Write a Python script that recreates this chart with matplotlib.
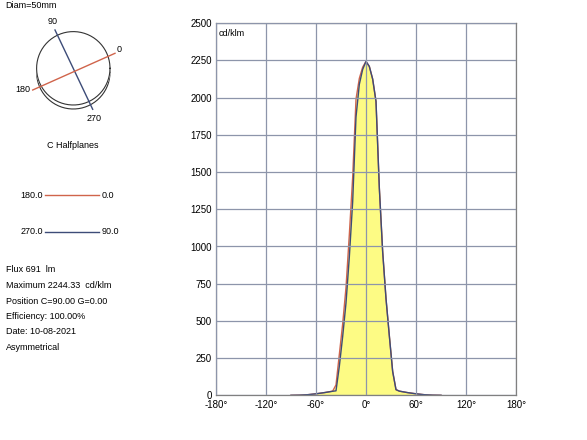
import numpy as np
import matplotlib.pyplot as plt

plt.rcParams['font.family'] = ['Liberation Sans', 'DejaVu Sans']

# Photometric curves (cd/klm) versus gamma angle (deg)
angles = [-90, -80, -70, -60, -50, -40, -36, -32, -28, -24, -20, -16, -12,
          -8, -4, 0, 4, 8, 12, 16, 20, 24, 28, 32, 36, 40, 50, 60, 70, 80, 90]
c0_180 = [0, 1, 4, 10, 18, 28, 70, 275, 480, 725, 1080, 1465, 1990,
          2130, 2205, 2244, 2210, 2125, 1975, 1393, 965, 650, 400, 160,
          38, 28, 18, 10, 4, 1, 0]
c90_270 = [0, 1, 4, 10, 18, 27, 30, 195, 395, 620, 930, 1300, 1870,
           2090, 2190, 2244, 2210, 2125, 1975, 1393, 965, 650, 400, 160,
           38, 28, 18, 10, 4, 1, 0]

xticks = [-180, -120, -60, 0, 60, 120, 180]
yticks = np.arange(0, 2501, 250)

info_lines = ['Flux 691  lm', 'Maximum 2244.33  cd/klm',
              'Position C=90.00 G=0.00', 'Efficiency: 100.00%',
              'Date: 10-08-2021', 'Asymmetrical']

red = '#d0644b'
blue = '#3d4c78'
grid_c = '#8d95aa'
fs = 6.5

fig = plt.figure(figsize=(5.87, 4.4), dpi=100)

# Main intensity plot
ax = fig.add_axes([216/587, 1-395.3/440, 300/587, 372/440])
ax.fill_between(angles, c0_180, color='#fdfb84', lw=0)
ax.fill_between(angles, c90_270, color='#fdfb84', lw=0)
ax.plot(angles, c0_180, c=red, lw=1.0)
ax.plot(angles, c90_270, c=blue, lw=1.0)
ax.set_xlim(-180, 180)
ax.set_ylim(0, 2500)
ax.set_xticks(xticks)
ax.set_xticklabels([f'{t}°' for t in xticks])
ax.set_yticks(yticks)
ax.grid(True, color=grid_c, lw=0.9)
ax.set_axisbelow(False)
for line in ax.get_xgridlines() + ax.get_ygridlines():
    line.set_zorder(0.5)
ax.tick_params(length=0, labelsize=fs+0.5)
ax.tick_params(axis='x', pad=3.5)
ax.tick_params(axis='y', pad=3)
for s in ax.spines.values():
    s.set_color('#808080')
    s.set_linewidth(0.9)
ax.text(0.01, 0.985, 'cd/klm', transform=ax.transAxes, fontsize=fs,
        va='top', ha='left')

# Left panel (pixel coordinates)
lp = fig.add_axes([0, 0, 1, 1], facecolor='none')
lp.set_xlim(0, 587)
lp.set_ylim(440, 0)
lp.axis('off')

lp.text(5, 5, 'Diam=50mm', fontsize=fs, va='center', ha='left')
t = np.linspace(0, 2*np.pi, 200)
cx, cy, r = 73.3, 68.3, 36.7
lp.plot(cx + r*np.cos(t), cy + 4 + r*np.sin(t), c='#333333', lw=0.8)
lp.fill(cx + r*np.cos(t), cy + r*np.sin(t), c='white', zorder=2)
lp.plot(cx + r*np.cos(t), cy + r*np.sin(t), c='#333333', lw=0.8, zorder=3)
lp.plot([55, 92.7], [30, 109.3], c=blue, lw=1.0, zorder=4)
lp.plot([32.7, 115], [90, 53.3], c=red, lw=1.0, zorder=4)
lp.text(52.7, 21.7, '90', fontsize=fs, ha='center', va='center')
lp.text(119.3, 49.3, '0', fontsize=fs, ha='center', va='center')
lp.text(22.7, 90, '180', fontsize=fs, ha='center', va='center')
lp.text(94, 118.3, '270', fontsize=fs, ha='center', va='center')
lp.text(72.7, 145.7, 'C Halfplanes', fontsize=fs, ha='center', va='center')

lp.text(43, 195, '180.0', fontsize=fs, ha='right', va='center')
lp.plot([45, 99], [195, 195], c=red, lw=1.0)
lp.text(102, 195, '0.0', fontsize=fs, ha='left', va='center')
lp.text(43, 231.7, '270.0', fontsize=fs, ha='right', va='center')
lp.plot([45, 99], [231.7, 231.7], c=blue, lw=1.0)
lp.text(102, 231.7, '90.0', fontsize=fs, ha='left', va='center')

for i, s in enumerate(info_lines):
    lp.text(6, 270 + i*15.5, s, fontsize=fs, ha='left', va='center')

fig.savefig('out.png', dpi=100)
